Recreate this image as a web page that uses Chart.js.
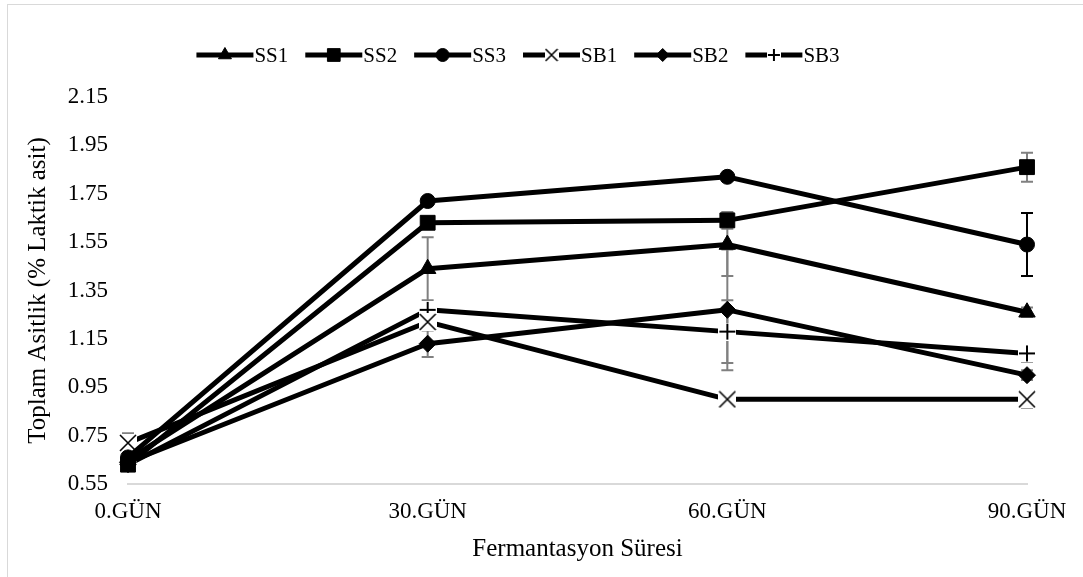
<!DOCTYPE html>
<html>
<head>
<meta charset="utf-8">
<script src="https://cdn.jsdelivr.net/npm/chart.js@4"></script>
<style>
  html, body { margin: 0; padding: 0; background: #fff; overflow: hidden; }
  #wrap { position: relative; width: 1083px; height: 577px; }
  #frame { position: absolute; left: 7px; top: 4px; width: 1200px; height: 700px;
           border: 1.5px solid #d9d9d9; box-sizing: border-box; }
  #c { position: absolute; left: 0; top: 0; }
</style>
</head>
<body>
<div id="wrap">
  <div id="frame"></div>
  <canvas id="c" width="1083" height="577"></canvas>
</div>
<script>
// Fermentation days and total acidity (% lactic acid) per sample
const CATEGORIES = ['0.GÜN', '30.GÜN', '60.GÜN', '90.GÜN'];
const Y_TICKS = [0.55, 0.75, 0.95, 1.15, 1.35, 1.55, 1.75, 1.95, 2.15];

const SS1 = [0.65, 1.44, 1.54, 1.26];
const SS2 = [0.63, 1.63, 1.64, 1.86];
const SS3 = [0.66, 1.72, 1.82, 1.54];
const SB1 = [0.72, 1.22, 0.90, 0.90];
const SB2 = [0.64, 1.13, 1.27, 1.00];
const SB3 = [0.63, 1.27, 1.18, 1.09];

// standard deviations (error bars)
const SS1_ERR = [0.04, 0.13, 0.13, 0.02];
const SS2_ERR = [0.02, 0.02, 0.035, 0.06];
const SS3_ERR = [0, 0, 0, 0.13];
const SB1_ERR = [0.04, 0.02, 0, 0.035];
const SB2_ERR = [0.02, 0.055, 0.25, 0.02];
const SB3_ERR = [0.035, 0.02, 0.13, 0.035];

const FONT = '"Liberation Serif", "Times New Roman", serif';

// X and + markers on a white square, so the line stops short of them
function crossMarker(rotated, size, lw) {
  const c = document.createElement('canvas');
  c.width = c.height = size;
  const g = c.getContext('2d');
  g.fillStyle = '#fff';
  g.fillRect(0, 0, size, size);
  g.strokeStyle = '#000';
  g.lineWidth = lw;
  g.beginPath();
  const m = 1, s = size;
  if (rotated) {
    g.moveTo(m, m); g.lineTo(s - m, s - m);
    g.moveTo(s - m, m); g.lineTo(m, s - m);
  } else {
    g.moveTo(s / 2, m); g.lineTo(s / 2, s - m);
    g.moveTo(m, s / 2); g.lineTo(s - m, s / 2);
  }
  g.stroke();
  return c;
}

const X_MARK = crossMarker(true, 18, 1.6);
const PLUS_MARK = crossMarker(false, 18, 2);
const X_MARK_SMALL = crossMarker(true, 14, 1.5);
const PLUS_MARK_SMALL = crossMarker(false, 14, 2);

function series(label, data, errors, style, radius, legendStyle, legendRadius, errColor) {
  return {
    label, data, errors, errColor,
    borderColor: '#000', backgroundColor: '#000', borderWidth: 5,
    borderJoinStyle: 'round',
    pointStyle: style, pointRadius: radius,
    pointBackgroundColor: '#000', pointBorderColor: '#000', pointBorderWidth: 1,
    tension: 0, clip: false,
    legendMarker: { style: legendStyle, radius: legendRadius }
  };
}

const datasets = [
  series('SS1', SS1, SS1_ERR, 'triangle', 9.5, 'triangle', 7.5, '#808080'),
  series('SS2', SS2, SS2_ERR, 'rect', 10.5, 'rect', 9, '#808080'),
  series('SS3', SS3, SS3_ERR, 'circle', 7.5, 'circle', 6.5, '#000'),
  series('SB1', SB1, SB1_ERR, X_MARK, 9, X_MARK_SMALL, 7, '#808080'),
  series('SB2', SB2, SB2_ERR, 'rectRot', 8.5, 'rectRot', 6.5, '#808080'),
  series('SB3', SB3, SB3_ERR, PLUS_MARK, 9, PLUS_MARK_SMALL, 7, '#808080')
];

// vertical error bars with caps, drawn behind lines and markers
const errorBarPlugin = {
  id: 'errorBars',
  beforeDatasetsDraw(chart, args, opts) {
    const ctx = chart.ctx, yScale = chart.scales.y;
    chart.data.datasets.forEach((ds, i) => {
      const meta = chart.getDatasetMeta(i);
      ctx.save();
      ctx.strokeStyle = ds.errColor;
      ctx.lineWidth = opts.width;
      ds.data.forEach((v, j) => {
        const e = ds.errors[j];
        if (!e) return;
        const px = meta.data[j].x;
        const t = yScale.getPixelForValue(v + e);
        const b = yScale.getPixelForValue(v - e);
        ctx.beginPath();
        ctx.moveTo(px, t); ctx.lineTo(px, b);
        ctx.moveTo(px - opts.cap, t); ctx.lineTo(px + opts.cap, t);
        ctx.moveTo(px - opts.cap, b); ctx.lineTo(px + opts.cap, b);
        ctx.stroke();
      });
      ctx.restore();
    });
  }
};

// legend row: line segment with the series marker, then the name
const lineLegendPlugin = {
  id: 'lineLegend',
  afterDraw(chart, args, o) {
    const ctx = chart.ctx;
    ctx.save();
    ctx.font = o.font;
    const items = chart.data.datasets.map(ds => ({
      ds, w: o.lineLen + o.textGap + ctx.measureText(ds.label).width
    }));
    const total = items.reduce((a, it) => a + it.w, 0) + o.itemGap * (items.length - 1);
    let x = o.centerX - total / 2;
    const y = o.y;
    items.forEach(({ ds, w }) => {
      ctx.strokeStyle = ds.borderColor;
      ctx.lineWidth = ds.borderWidth;
      ctx.lineCap = 'butt';
      ctx.beginPath();
      ctx.moveTo(x, y); ctx.lineTo(x + o.lineLen, y);
      ctx.stroke();
      ctx.fillStyle = '#000';
      ctx.strokeStyle = '#000';
      ctx.lineWidth = 1;
      Chart.helpers.drawPoint(ctx, {
        pointStyle: ds.legendMarker.style, radius: ds.legendMarker.radius,
        rotation: 0, borderWidth: 1
      }, x + o.lineLen / 2, y);
      ctx.fillStyle = o.color;
      ctx.textAlign = 'left';
      ctx.textBaseline = 'middle';
      ctx.fillText(ds.label, x + o.lineLen + o.textGap, y + 1);
      x += w + o.itemGap;
    });
    ctx.restore();
  }
};

new Chart(document.getElementById('c'), {
  type: 'line',
  data: { labels: CATEGORIES, datasets },
  plugins: [errorBarPlugin, lineLegendPlugin],
  options: {
    responsive: false,
    animation: false,
    events: [],
    layout: { padding: { top: 97, right: 56, bottom: 0, left: 0 } },
    plugins: {
      legend: { display: false },
      tooltip: { enabled: false },
      errorBars: { width: 2, cap: 6 },
      lineLegend: {
        font: '21px ' + FONT, color: '#000',
        centerX: 518, y: 55, lineLen: 57, textGap: 1, itemGap: 17
      }
    },
    scales: {
      x: {
        type: 'category',
        offset: false,
        grid: { display: false, drawTicks: false },
        border: { display: true, color: '#d9d9d9', width: 2 },
        ticks: { color: '#000', font: { family: FONT, size: 23 }, padding: 14, maxRotation: 0 },
        title: { display: true, text: 'Fermantasyon Süresi', color: '#000',
                 font: { family: FONT, size: 25 }, padding: { top: 0, bottom: 13 } },
        afterFit(scale) { scale.height = 93; }
      },
      y: {
        min: 0.55, max: 2.15,
        grid: { display: false, drawTicks: false },
        border: { display: false },
        ticks: { color: '#000', font: { family: FONT, size: 23 }, padding: 20,
                 callback: v => Number(v).toFixed(2) },
        afterBuildTicks(scale) { scale.ticks = Y_TICKS.map(v => ({ value: v })); },
        title: { display: true, text: 'Toplam Asitlik (% Laktik asit)', color: '#000',
                 font: { family: FONT, size: 25 }, padding: { top: 23, bottom: 0 } },
        afterFit(scale) { scale.width = 128; }
      }
    }
  }
});
</script>
</body>
</html>
